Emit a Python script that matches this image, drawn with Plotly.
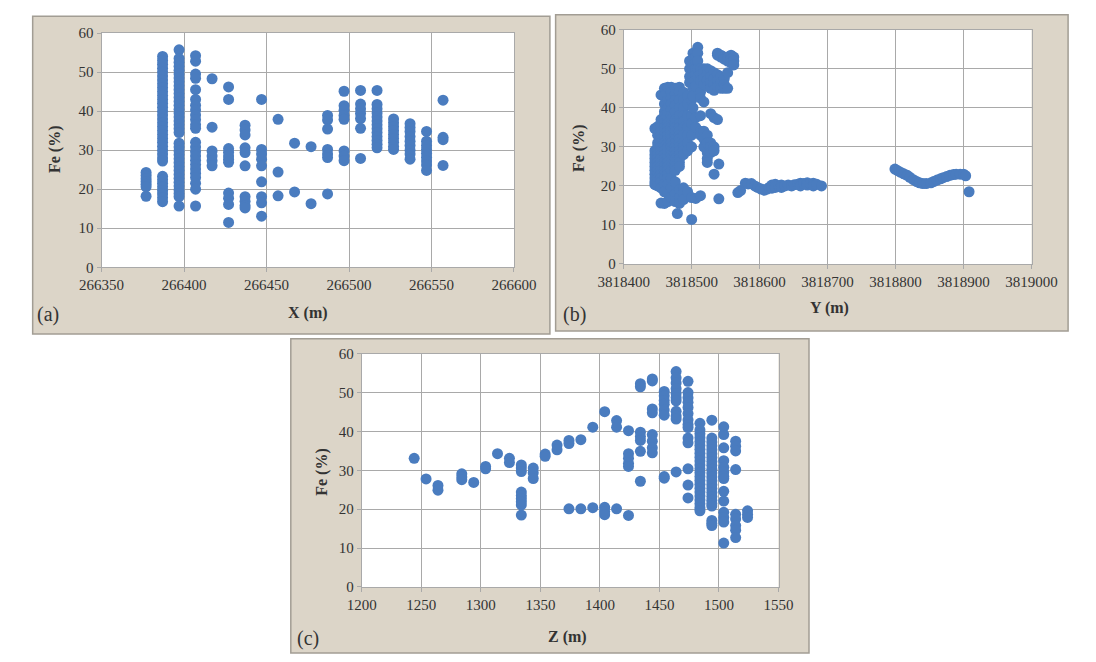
import plotly.graph_objects as go

# ---------------- data ----------------
# Panel (a): X (m) columns and the Fe (%) values read in each column
a_x_cols = [266377, 266387, 266397, 266407, 266417, 266427, 266437, 266447, 266457,
            266467, 266477, 266487, 266497, 266507, 266517, 266527, 266537, 266547, 266557]
a_fe_cols = [
    [24.3, 23.5, 22.7, 22.0, 21.3, 20.6, 18.2],
    [54.0, 53.0, 52.0, 51.0, 50.0, 49.0, 48.0, 47.0, 46.0, 45.0, 44.0, 43.0, 42.0, 41.0, 40.0,
     39.0, 38.0, 37.0, 36.0, 35.0, 34.0, 33.0, 32.0, 31.0, 30.0, 29.0, 28.0, 27.2,
     23.3, 22.4, 21.5, 20.6, 19.7, 18.8, 17.8, 16.8],
    [55.7, 53.5, 52.5, 51.5, 50.5, 49.5, 48.5, 47.5, 46.5, 45.5, 44.5, 43.5, 42.5, 41.5, 40.5,
     39.5, 38.5, 37.5, 36.5, 35.5, 34.5, 31.8, 30.8, 29.8, 28.8, 27.8, 26.8, 25.8, 24.8, 23.8,
     22.8, 21.8, 20.8, 19.8, 18.9, 18.1, 15.7],
    [54.2, 52.8, 49.5, 48.4, 45.5, 43.0, 41.5, 40.3, 39.0, 37.8, 36.5, 35.6, 32.0, 30.8, 29.6,
     28.5, 27.4, 26.3, 25.2, 24.1, 23.0, 21.5, 20.0, 15.7],
    [48.3, 35.9, 29.8, 28.5, 27.3, 26.0],
    [46.2, 43.0, 30.4, 29.5, 28.5, 27.7, 26.9, 19.0, 17.7, 16.1, 11.5],
    [36.4, 35.2, 33.9, 30.6, 29.4, 26.0, 18.1, 16.9, 15.8, 15.2],
    [43.0, 30.2, 29.0, 27.7, 26.0, 21.9, 18.1, 16.5, 13.1],
    [37.9, 24.4, 18.3],
    [31.8, 19.3],
    [30.9, 16.3],
    [38.9, 37.7, 35.4, 30.2, 29.0, 28.1, 18.8],
    [45.1, 41.4, 40.2, 38.9, 37.9, 29.8, 28.5, 27.3],
    [45.3, 41.8, 40.6, 39.4, 38.1, 35.6, 27.9],
    [45.3, 41.7, 40.6, 39.5, 38.5, 37.5, 36.5, 35.5, 34.5, 33.5, 32.5, 31.5, 30.6],
    [38.0, 37.0, 36.0, 35.0, 34.0, 33.0, 32.0, 31.0, 30.2],
    [36.8, 35.8, 34.8, 33.5, 32.3, 31.2, 30.0, 29.0, 27.7],
    [34.8, 32.3, 31.2, 30.2, 29.2, 28.2, 27.2, 26.2, 24.8],
    [42.8, 33.3, 32.7, 26.1],
]

# Panel (b): Y (m) columns and Fe (%) values
b_y_cols = [3818446, 3818450, 3818455, 3818460, 3818465, 3818470, 3818476, 3818479, 3818482,
            3818488, 3818494, 3818497, 3818500, 3818502, 3818506, 3818509, 3818513, 3818518,
            3818523, 3818528, 3818533, 3818538, 3818540, 3818543, 3818548, 3818553, 3818558,
            3818562,
            3818568, 3818572, 3818579, 3818583, 3818588, 3818593, 3818597, 3818602, 3818607,
            3818611, 3818614, 3818618, 3818623, 3818628, 3818632, 3818637, 3818642, 3818647,
            3818651, 3818656, 3818660, 3818665, 3818670, 3818675, 3818679, 3818684, 3818691,
            3818799, 3818803, 3818807, 3818812, 3818817, 3818821, 3818826, 3818831, 3818835,
            3818840, 3818845, 3818852, 3818856, 3818861, 3818866, 3818870, 3818875, 3818880,
            3818885, 3818889, 3818895, 3818900, 3818903, 3818908]
b_fe_cols = [
    [34.7, 29.0, 28.0, 27.0, 26.0, 25.0, 24.0, 23.0, 22.0, 21.0, 20.3],
    [35.2, 33.0, 31.0, 30.0, 29.0, 28.0, 27.0, 26.0, 25.0, 24.0, 23.0, 22.0, 21.0, 20.0],
    [43.3, 37.0, 36.0, 35.0, 34.0, 33.0, 32.0, 31.0, 30.0, 29.0, 28.0, 27.0, 26.0, 25.0, 24.0,
     23.0, 22.0, 21.0, 19.5, 15.6],
    [45.0, 43.0, 41.0, 39.0, 38.0, 37.0, 36.0, 35.0, 34.0, 33.0, 32.0, 31.0, 30.0, 29.0, 28.0,
     27.0, 26.0, 25.0, 24.0, 23.0, 22.0, 20.5, 18.5, 15.5],
    [45.3, 42.0, 40.0, 38.5, 37.0, 36.0, 35.0, 34.0, 33.0, 32.0, 31.0, 30.0, 29.0, 28.0, 27.0,
     26.0, 25.0, 24.0, 23.0, 22.0, 20.5, 18.0, 16.0],
    [45.3, 44.0, 42.5, 41.0, 39.5, 38.0, 37.0, 36.0, 35.0, 34.0, 33.0, 32.0, 31.0, 30.0, 29.0,
     28.0, 27.0, 26.0, 25.0, 24.0, 22.0, 19.5, 17.0],
    [45.0, 43.5, 42.0, 40.5, 39.0, 37.0, 36.0, 35.0, 34.0, 33.0, 32.0, 31.0, 30.0, 29.0, 28.0,
     27.0, 26.0, 25.0, 24.0, 21.0, 18.0, 16.0],
    [12.9],
    [45.3, 44.0, 42.0, 40.0, 38.0, 36.0, 35.0, 34.0, 33.0, 32.0, 31.0, 30.0, 29.0, 28.0, 27.0,
     26.0, 25.0, 19.0, 17.0, 15.5],
    [44.0, 42.0, 40.0, 38.0, 36.5, 35.0, 33.0, 31.0, 30.0, 29.0, 28.0, 19.5, 18.0, 16.5],
    [43.0, 41.0, 38.0, 35.0, 33.0, 31.0, 29.0, 18.5],
    [52.0, 50.0, 48.0, 46.5],
    [42.0, 38.0, 36.0, 33.0, 30.0, 17.0, 11.4],
    [54.0, 52.5, 51.0, 49.5, 48.0, 46.5, 45.0, 43.0, 40.0],
    [53.0, 51.5, 50.0, 48.5, 47.0, 45.5, 37.5, 35.0, 16.8],
    [55.5, 54.0, 52.0, 50.0, 48.0],
    [50.0, 48.5, 47.0, 44.0, 42.5, 38.0, 34.0, 33.0, 17.5],
    [50.0, 49.0, 47.5, 46.0, 41.5, 34.0, 32.0, 30.0],
    [50.0, 48.5, 47.0, 45.5, 33.0, 31.0, 28.5, 27.0, 26.0],
    [49.5, 48.0, 46.5, 45.0, 38.5, 31.0, 30.0, 28.5],
    [49.0, 47.5, 46.0, 44.5, 37.5, 30.0, 29.0, 23.0],
    [54.0, 53.5, 48.5, 47.0, 45.5, 37.0],
    [25.6, 16.7],
    [53.5, 53.0, 48.0, 46.5, 45.0],
    [53.0, 52.5, 47.5, 46.0, 45.0],
    [53.0, 52.0, 49.0, 45.0],
    [53.5, 52.5, 51.5],
    [53.0, 52.0, 51.0],
    [18.3], [18.8], [20.7], [20.5], [20.6], [20.0], [19.6], [19.2], [18.9],
    [19.2], [19.6], [20.2, 19.4], [20.4, 19.6], [20.0], [20.2, 19.6], [20.0], [20.2], [20.0],
    [20.3], [20.4], [20.7, 20.0], [20.6], [20.8, 20.2], [20.5], [20.7, 20.0], [20.4], [20.0],
    [24.3], [23.9], [23.5], [23.1], [22.7], [22.2], [21.6], [21.1], [20.8],
    [20.6], [20.6], [20.8], [21.1], [21.5], [21.8], [22.1], [22.4], [22.7],
    [22.9], [23.0], [23.0], [23.0], [22.6], [18.5],
]

# Panel (c): Z (m) columns and Fe (%) values
c_z_cols = [1244, 1254, 1264, 1284, 1294, 1304, 1314, 1324, 1334, 1344, 1354, 1364, 1374, 1384,
            1394, 1404, 1414, 1424, 1434, 1444, 1454, 1464, 1474, 1484, 1494, 1504, 1514, 1524]
c_fe_cols = [
    [33.1],
    [27.8],
    [26.1, 24.9],
    [29.1, 28.3, 27.6],
    [26.9],
    [31.0, 30.4],
    [34.3],
    [33.1, 32.0],
    [31.4, 30.6, 29.7, 24.4, 23.5, 22.7, 21.9, 21.1, 18.5],
    [30.6, 29.4, 27.9],
    [34.2, 33.6],
    [36.5, 35.3],
    [37.7, 36.9, 20.1],
    [37.9, 20.1],
    [41.1, 20.4],
    [45.1, 20.5, 19.4, 18.6],
    [42.8, 41.1, 20.1],
    [40.2, 34.3, 33.1, 31.8, 31.0, 18.4],
    [52.3, 51.5, 39.8, 38.7, 37.7, 34.9, 27.2],
    [53.5, 53.0, 45.8, 44.8, 39.2, 37.5, 35.8, 34.5],
    [50.3, 49.2, 48.0, 47.0, 45.5, 44.2, 28.4, 28.0],
    [55.4, 53.8, 52.5, 51.0, 49.8, 48.7, 47.9, 45.2, 44.0, 43.2, 29.6],
    [52.9, 50.0, 48.7, 47.5, 46.2, 44.6, 43.0, 41.8, 41.0, 38.3, 37.1, 30.4, 26.2, 22.9],
    [42.1, 40.4, 39.4, 38.4, 37.4, 36.4, 35.4, 34.4, 33.4, 32.4, 31.4, 30.4, 29.4, 28.4, 27.4,
     26.4, 25.4, 24.4, 23.4, 22.4, 21.4, 20.4, 19.6],
    [42.9, 38.3, 37.3, 36.3, 35.3, 34.3, 33.3, 32.3, 31.3, 30.3, 29.3, 28.3, 27.3, 26.3, 25.3,
     24.3, 23.3, 22.3, 21.5, 20.8, 17.1, 16.4, 15.8],
    [41.2, 39.2, 35.8, 32.5, 30.8, 29.6, 28.5, 27.9, 24.6, 22.1, 19.2, 17.9, 16.7, 11.3],
    [37.5, 36.2, 35.0, 30.2, 18.7, 17.5, 15.8, 14.6, 12.7],
    [19.6, 18.7, 17.9],
]

a_x_ticks = [266350, 266400, 266450, 266500, 266550, 266600]
b_y_ticks = [3818400, 3818500, 3818600, 3818700, 3818800, 3818900, 3819000]
c_z_ticks = [1200, 1250, 1300, 1350, 1400, 1450, 1500, 1550]
fe_ticks = [0, 10, 20, 30, 40, 50, 60]


def expand(cols, vals):
    xs, ys = [], []
    for c, v in zip(cols, vals):
        for f in v:
            xs.append(c)
            ys.append(f)
    return xs, ys


W, H = 1096, 662
MARK = dict(color="#4a7cbf", size=11, line=dict(width=0))
SERIF = "'Liberation Serif', 'Times New Roman', serif"
GRID = "#a9a9a9"
TXT = "#333333"


def px(x):
    return x / W


def py(y):
    return 1 - y / H


fig = go.Figure()
xa, ya = expand(a_x_cols, a_fe_cols)
xb, yb = expand(b_y_cols, b_fe_cols)
xc, yc = expand(c_z_cols, c_fe_cols)
fig.add_trace(go.Scatter(x=xa, y=ya, mode="markers", marker=MARK, xaxis="x", yaxis="y", showlegend=False))
fig.add_trace(go.Scatter(x=xb, y=yb, mode="markers", marker=MARK, xaxis="x2", yaxis="y2", showlegend=False))
fig.add_trace(go.Scatter(x=xc, y=yc, mode="markers", marker=MARK, xaxis="x3", yaxis="y3", showlegend=False))

# plot-area pixel boxes (left, top, right, bottom) and panel frames
boxes = {
    "a": (79.3, 25.7, 512.3, 265.7),
    "b": (627.4, 22.3, 1055.7, 262.3),
    "c": (352.5, 354.3, 790.0, 593.3),
}
frames = {
    "a": (7, 8.5, 550, 334),
    "b": (556, 7, 1094, 331),
    "c": (278, 339, 822, 661),
}


def axis_common(tickvals, rng, anchor, domain, fmt=None):
    d = dict(range=rng, tickvals=tickvals, domain=domain, anchor=anchor,
             showgrid=True, gridcolor=GRID, gridwidth=1, zeroline=False,
             showline=True, linecolor=GRID, linewidth=1, mirror=True,
             ticks="outside", ticklen=4, tickcolor=GRID,
             tickfont=dict(family=SERIF, size=15, color=TXT), fixedrange=True)
    if fmt:
        d["tickformat"] = fmt
    return d


la, ta, ra, ba = boxes["a"]
lb, tb, rb, bb = boxes["b"]
lc, tc, rc, bc = boxes["c"]

fig.update_layout(
    width=W, height=H,
    margin=dict(l=0, r=0, t=0, b=0),
    paper_bgcolor="white",
    plot_bgcolor="rgba(0,0,0,0)",
    xaxis=axis_common(a_x_ticks, [266350, 266600], "y", [px(la), px(ra)], "d"),
    yaxis=axis_common(fe_ticks, [0, 60], "x", [py(ba), py(ta)]),
    xaxis2=axis_common(b_y_ticks, [3818400, 3819000], "y2", [px(lb), px(rb)], "d"),
    yaxis2=axis_common(fe_ticks, [0, 60], "x2", [py(bb), py(tb)]),
    xaxis3=axis_common(c_z_ticks, [1200, 1550], "y3", [px(lc), px(rc)], "d"),
    yaxis3=axis_common(fe_ticks, [0, 60], "x3", [py(bc), py(tc)]),
)

shapes = []
for k in ["a", "b", "c"]:
    l, t, r, b = frames[k]
    shapes.append(dict(type="rect", xref="paper", yref="paper", layer="below",
                       x0=px(l), x1=px(r), y0=py(b), y1=py(t),
                       fillcolor="#dcd5c8", line=dict(color="#a29d94", width=1.5)))
for k in ["a", "b", "c"]:
    l, t, r, b = boxes[k]
    shapes.append(dict(type="rect", xref="paper", yref="paper", layer="below",
                       x0=px(l), x1=px(r), y0=py(b), y1=py(t),
                       fillcolor="white", line=dict(width=0)))
fig.update_layout(shapes=shapes)

ann = []


def text(x, y, s, size, bold=False, angle=0):
    ann.append(dict(xref="paper", yref="paper", x=px(x), y=py(y), text=(f"<b>{s}</b>" if bold else s),
                    showarrow=False, xanchor="center", yanchor="middle", textangle=angle,
                    font=dict(family=SERIF, size=size, color=TXT)))


text(296, 313, "X (m)", 16, True)
text(843, 307, "Y (m)", 16, True)
text(568, 645, "Z (m)", 16, True)
text(31, 145, "Fe (%)", 16, True, -90)
text(580, 143, "Fe (%)", 16, True, -90)
text(310, 475, "Fe (%)", 16, True, -90)
text(23, 314, "(a)", 20)
text(576, 314, "(b)", 20)
text(296, 646, "(c)", 20)
fig.update_layout(annotations=ann)

fig.write_html("out.html")
